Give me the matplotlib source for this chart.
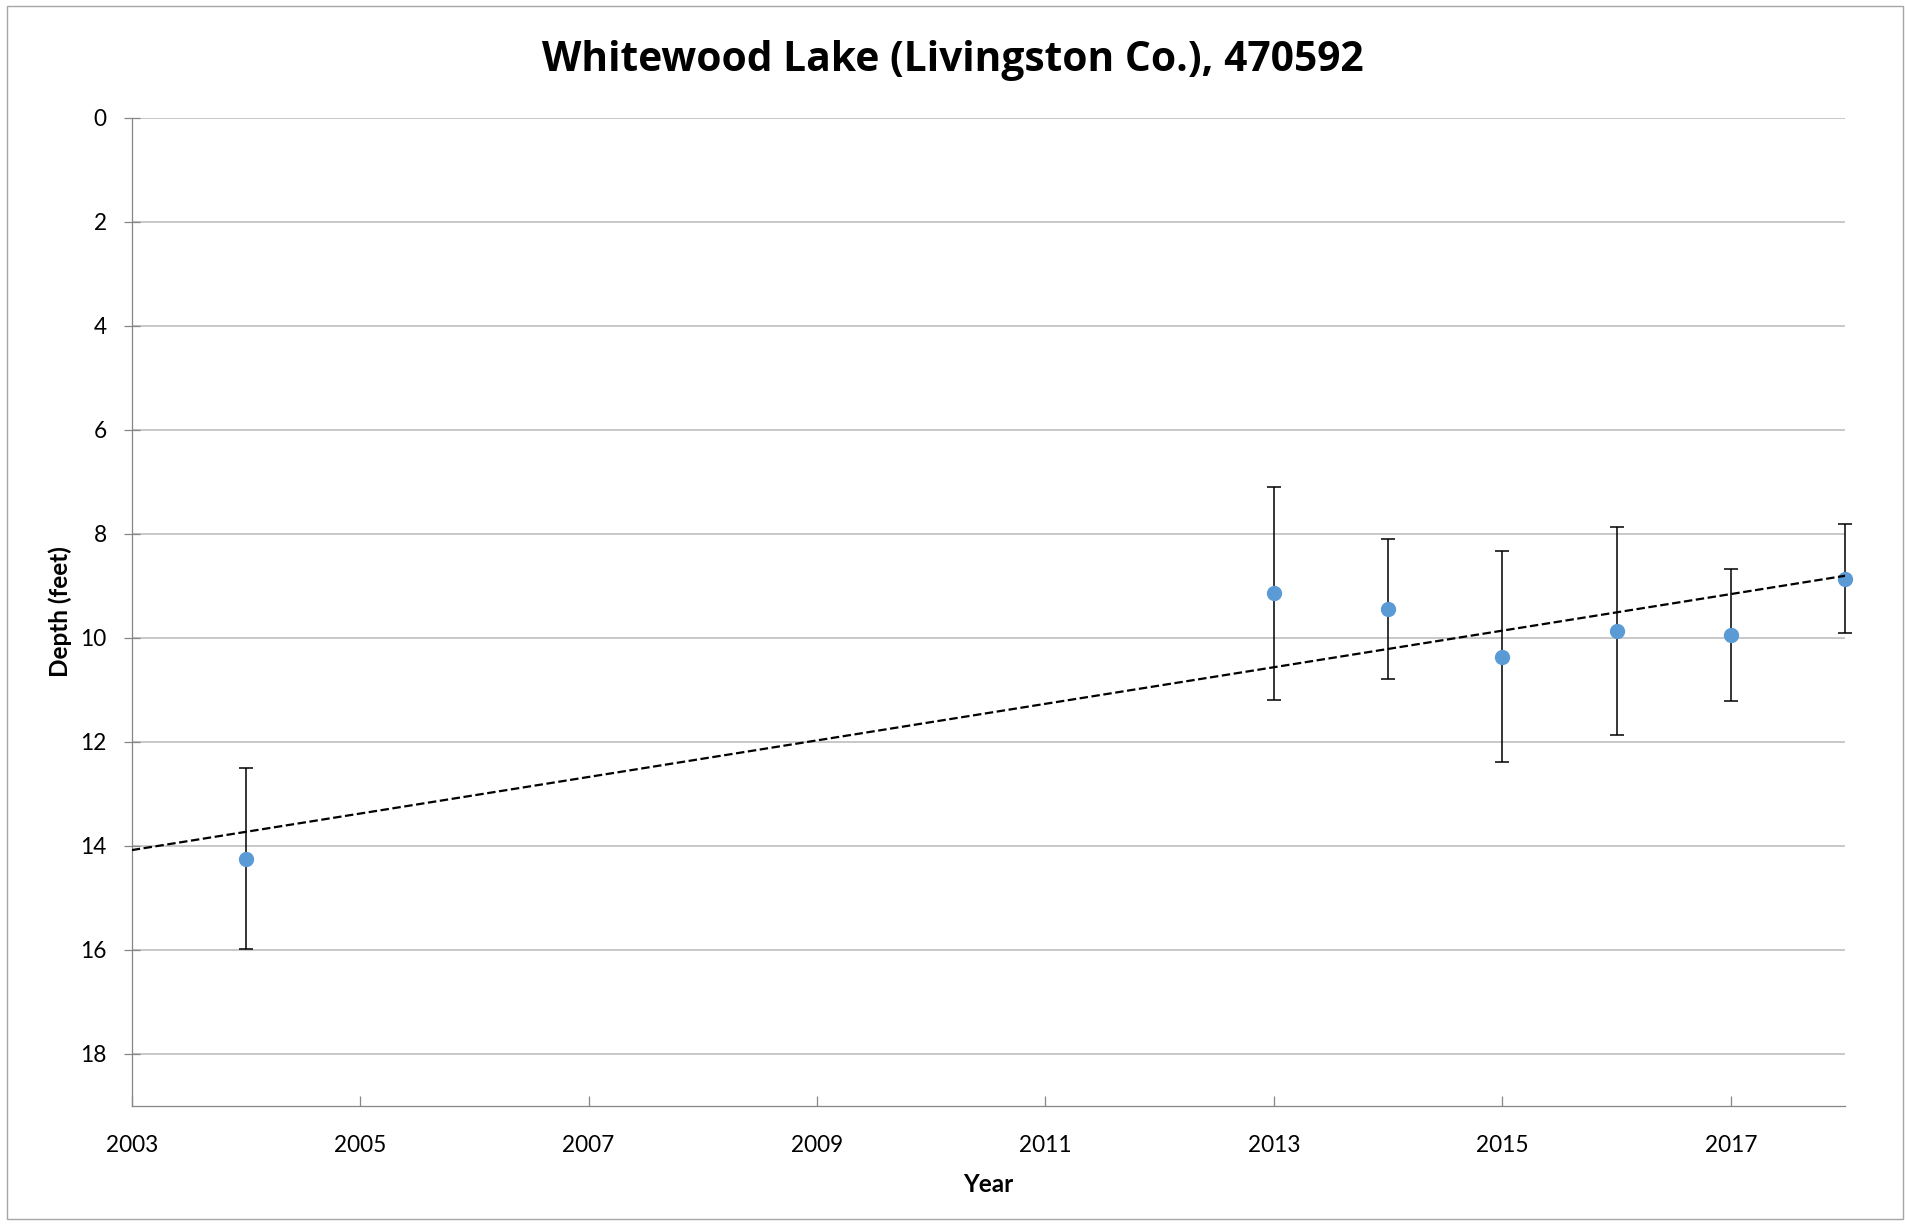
import numpy as np
import matplotlib as mpl
import matplotlib.pyplot as plt
from matplotlib.patches import Rectangle

mpl.use('Agg')

# 데이터
years = [2004, 2013, 2014, 2015, 2016, 2017, 2018]
depth = [14.25, 9.14, 9.44, 10.36, 9.86, 9.94, 8.86]
depth_err = [1.74, 2.05, 1.35, 2.03, 2.00, 1.27, 1.04]
x_ticks = [2003, 2005, 2007, 2009, 2011, 2013, 2015, 2017]
y_ticks = [0, 2, 4, 6, 8, 10, 12, 14, 16, 18]

plt.rcParams['font.family'] = ['Lato', 'DejaVu Sans']

fig = plt.figure(figsize=(19.06, 12.25), dpi=100)
ax = fig.add_axes([0.0691, 0.0974, 0.8989, 0.8063])

# 바깥 테두리
fig.patches.append(Rectangle((0.0035, 0.005), 0.9950, 0.9900, transform=fig.transFigure,
                             fill=False, edgecolor='#A6A6A6', linewidth=1.0))

# 측정값 + 오차막대
ax.errorbar(years, depth, yerr=depth_err, fmt='o', color='#5B9BD5', markersize=10,
            ecolor='black', elinewidth=1.1, capsize=5, capthick=1.1, zorder=3,
            clip_on=False)

# 추세선 (선형)
coef = np.polyfit(years, depth, 1)
trend_x = np.array([x_ticks[0], years[-1]])
ax.plot(trend_x, np.polyval(coef, trend_x), color='black', linewidth=1.6,
        dashes=(3.8, 1.6), zorder=4)

ax.set_xlim(2003, 2018)
ax.set_ylim(19, 0)
ax.set_xticks(x_ticks)
ax.set_yticks(y_ticks)

ax.grid(axis='y', color='#BFBFBF', linewidth=1.2)
ax.set_axisbelow(True)
for side in ['top', 'right']:
    ax.spines[side].set_visible(False)
for side in ['left', 'bottom']:
    ax.spines[side].set_color('#868686')
    ax.spines[side].set_linewidth(0.9)

ax.tick_params(axis='y', direction='inout', length=12, width=0.9, color='#868686',
               labelsize=16.3, pad=12)
ax.tick_params(axis='x', direction='in', length=7, width=0.9, color='#868686',
               labelsize=16.3, pad=21)

# 제목은 그림 전체 기준 가운데
fig.text(0.5, 0.942, 'Whitewood Lake (Livingston Co.), 470592', fontsize=29.3,
         fontweight='bold', family=['Open Sans', 'DejaVu Sans'],
         ha='center', va='baseline')
ax.set_xlabel('Year', fontsize=17.5, fontweight='bold', labelpad=12)
ax.set_ylabel('Depth (feet)', fontsize=17.5, fontweight='bold', labelpad=6)

fig.savefig('out.png', dpi=100)
